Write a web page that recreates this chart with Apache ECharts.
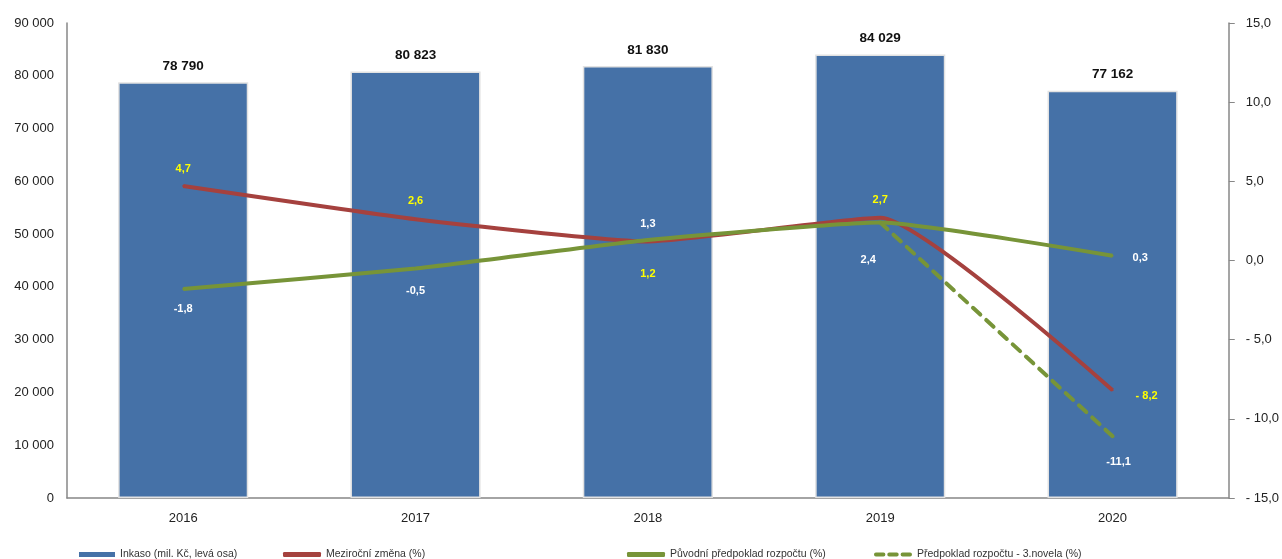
<!DOCTYPE html>
<html><head><meta charset="utf-8">
<script src="https://cdn.jsdelivr.net/npm/echarts@6/dist/echarts.min.js"></script>
<style>html,body{margin:0;padding:0;background:#fff}#c{width:1282px;height:559px}</style>
</head><body><div id="c"></div>
<script>
const years = ['2016','2017','2018','2019','2020'];
const inkaso = [78790, 80823, 81830, 84029, 77162];
const mezirocni = [4.7, 2.6, 1.2, 2.7, -8.2];
const puvodni = [-1.8, -0.5, 1.3, 2.4, 0.3];
const novela = [null, null, null, 2.4, -11.1];
const leftTicks = [0, 10000, 20000, 30000, 40000, 50000, 60000, 70000, 80000, 90000];
const rightTicks = [-15, -10, -5, 0, 5, 10, 15];

const names = ['Inkaso (mil. Kč, levá osa)', 'Meziroční změna (%)', 'Původní předpoklad rozpočtu (%)', 'Předpoklad rozpočtu - 3.novela (%)'];
const FONT = "'Liberation Sans', Arial, sans-serif";
const fmtThousands = v => String(v).replace(/\B(?=(\d{3})+(?!\d))/g, ' ');
const fmtDec = v => v.toFixed(1).replace('.', ',');

// label placement (style only)
const redPos = [['top',[0,-6]],['top',[0,-7]],['bottom',[0,21]],['top',[0,-6]],['right',[17,6]]];
const greenPos = [['bottom',[0,8]],['bottom',[0,11]],['top',[0,-4]],['bottom',[-12,26]],['right',[14,2]]];
const dashPos = [null,null,null,null,['bottom',[6,14]]];

function lineData(vals, pos, color, fmt) {
  return vals.map((v, i) => {
    if (v === null) return null;
    const p = pos[i];
    return {
      value: v,
      label: p ? { show: true, position: p[0], offset: p[1], color: color, fontWeight: 'bold', fontSize: 11, fontFamily: FONT, formatter: () => fmt(v) } : { show: false }
    };
  });
}

const legendText = { fontSize: 10.5, fontFamily: FONT, color: '#333' };
const chart = echarts.init(document.getElementById('c'));
chart.setOption({
  animation: false,
  grid: { left: 67, right: 52, top: 23, bottom: 61 },
  legend: [
    { data: [{ name: names[0], icon: 'rect', itemStyle: { borderWidth: 0, color: '#4571A7' } }], left: 74, top: 544, itemWidth: 36, itemHeight: 5, textStyle: legendText, itemGap: 4 },
    { data: [{ name: names[1], icon: 'roundRect' }], left: 278, top: 544, itemWidth: 38, itemHeight: 5, textStyle: legendText },
    { data: [{ name: names[2], icon: 'roundRect' }], left: 622, top: 544, itemWidth: 38, itemHeight: 5, textStyle: legendText },
    { data: [{ name: names[3], icon: 'path://M2,0h8a2,2 0 0 1 0,4h-8a2,2 0 0 1 0,-4z M16,0h8a2,2 0 0 1 0,4h-8a2,2 0 0 1 0,-4z M30,0h8a2,2 0 0 1 0,4h-8a2,2 0 0 1 0,-4z' }], left: 869, top: 544, itemWidth: 38, itemHeight: 5, textStyle: legendText }
  ],
  xAxis: {
    type: 'category', data: years,
    axisLine: { lineStyle: { color: '#878787', width: 1.5 } },
    axisTick: { show: false },
    axisLabel: { color: '#222', fontSize: 13, fontFamily: FONT, margin: 14 }
  },
  yAxis: [
    {
      type: 'value', min: 0, max: 90000, interval: 10000,
      axisLine: { show: true, lineStyle: { color: '#878787', width: 1.5 } },
      axisTick: { show: false },
      splitLine: { show: false },
      axisLabel: { color: '#222', fontSize: 13, fontFamily: FONT, margin: 13, formatter: v => fmtThousands(v) }
    },
    {
      type: 'value', min: -15, max: 15, interval: 5, position: 'right',
      axisLine: { show: true, lineStyle: { color: '#878787', width: 1.5 } },
      axisTick: { show: true, length: 6, lineStyle: { color: '#878787' } },
      splitLine: { show: false },
      axisLabel: { color: '#222', fontSize: 13, fontFamily: FONT, margin: 17, align: 'left',
        formatter: v => v < 0 ? '- ' + fmtDec(Math.abs(v)) : fmtDec(v) }
    }
  ],
  series: [
    {
      name: names[0], type: 'bar', data: inkaso, barWidth: '56%', yAxisIndex: 0,
      itemStyle: { color: '#4571A7', borderColor: '#e2e2e2', borderWidth: 1.5 },
      label: { show: true, position: 'top', distance: 9, color: '#111', fontWeight: 'bold', fontSize: 13.5, fontFamily: FONT, formatter: p => fmtThousands(p.value) }
    },
    {
      name: names[1], type: 'line', yAxisIndex: 1, symbol: 'circle', symbolSize: 2, showSymbol: true, smooth: 0.15,
      lineStyle: { color: '#A5413E', width: 4 }, itemStyle: { color: '#A5413E' },
      data: lineData(mezirocni, redPos, '#FFFF00', v => v < 0 ? '- ' + fmtDec(Math.abs(v)) : fmtDec(v)),
      z: 3
    },
    {
      name: names[2], type: 'line', yAxisIndex: 1, symbol: 'circle', symbolSize: 2, showSymbol: true, smooth: 0.15,
      lineStyle: { color: '#779438', width: 4 }, itemStyle: { color: '#779438' },
      data: lineData(puvodni, greenPos, '#FFFFFF', v => fmtDec(v)),
      z: 4
    },
    {
      name: names[3], type: 'line', yAxisIndex: 1, symbol: 'circle', symbolSize: 2, showSymbol: true,
      lineStyle: { color: '#779438', width: 4, type: [10, 8], cap: 'round' }, itemStyle: { color: '#779438' },
      data: lineData(novela, dashPos, '#FFFFFF', v => fmtDec(v)),
      z: 2
    }
  ]
});
</script></body></html>
